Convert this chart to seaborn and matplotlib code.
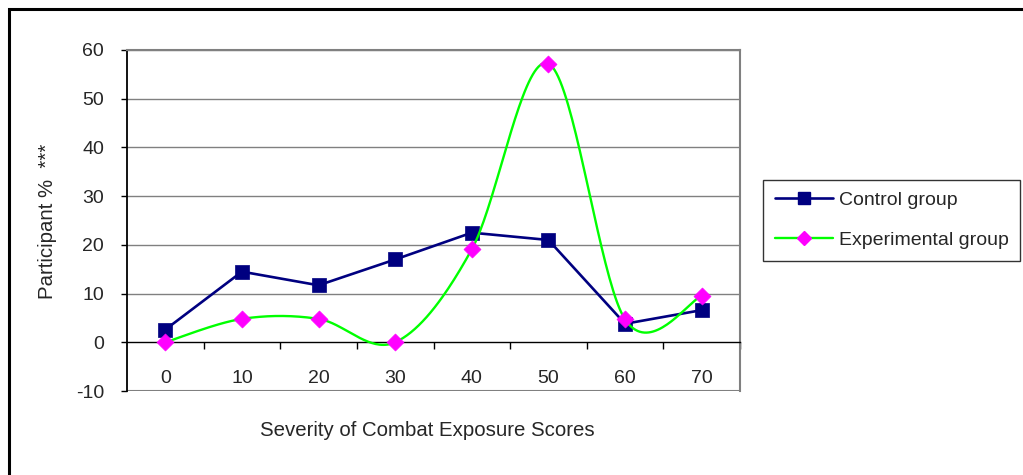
import numpy as np
import pandas as pd
import matplotlib
matplotlib.use("Agg")
import matplotlib.pyplot as plt
import seaborn as sns
from matplotlib.lines import Line2D
from matplotlib.patches import Rectangle

# ---- data ----
scores = [0, 10, 20, 30, 40, 50, 60, 70]
control = [2.6, 14.5, 11.7, 17.0, 22.5, 21.0, 3.8, 6.6]
experimental = [0.0, 4.8, 4.8, 0.0, 19.1, 57.2, 4.7, 9.5]
y_ticks = [-10, 0, 10, 20, 30, 40, 50, 60]
series_names = ["Control group", "Experimental group"]
x_title = "Severity of Combat Exposure Scores"
y_title = "Participant %  ***"

sns.set_theme(style="white")
plt.rcParams['font.family'] = ['Liberation Sans', 'DejaVu Sans']

NAVY = "#000080"
LIME = "#00FF00"
MAG = "#FF00FF"
GRAY = "#808080"
FS = 14
FS_T = 14.7


def smooth(xs, ys, n=40):
    """Excel-style smoothed line (Catmull-Rom Bezier through the points)."""
    xs = np.asarray(xs, float)
    ys = np.asarray(ys, float)
    P = np.column_stack([xs, ys])
    out = []
    for i in range(len(P) - 1):
        p0 = P[i - 1] if i > 0 else P[i]
        p1 = P[i]
        p2 = P[i + 1]
        p3 = P[i + 2] if i + 2 < len(P) else P[i + 1]
        c1 = p1 + (p2 - p0) / 6.0
        c2 = p2 - (p3 - p1) / 6.0
        t = np.linspace(0, 1, n)[:, None]
        seg = ((1 - t) ** 3) * p1 + 3 * ((1 - t) ** 2) * t * c1 + 3 * (1 - t) * t ** 2 * c2 + t ** 3 * p2
        out.append(seg if i == 0 else seg[1:])
    out = np.vstack(out)
    return out[:, 0], out[:, 1]


fig = plt.figure(figsize=(10.23, 4.75), dpi=100)
ax = fig.add_axes([127 / 1023, 84 / 475, 613 / 1023, 341 / 475])

# grid lines
for v in y_ticks:
    if v in (-10, 0):
        continue
    ax.axhline(v, color=GRAY, lw=1.0, zorder=0)
ax.axhline(-10, color=GRAY, lw=1.5, zorder=0)

# control series
df_c = pd.DataFrame({"x": scores, "y": control})
sns.lineplot(data=df_c, x="x", y="y", ax=ax, color=NAVY, lw=1.9, zorder=3)
sns.scatterplot(data=df_c, x="x", y="y", ax=ax, color=NAVY, marker="s", s=95,
                edgecolor=NAVY, linewidth=0.5, zorder=4)

# experimental series (smoothed)
sx, sy = smooth(scores, experimental)
df_s = pd.DataFrame({"x": sx, "y": sy})
sns.lineplot(data=df_s, x="x", y="y", ax=ax, color=LIME, lw=1.7, zorder=5, sort=False)
df_e = pd.DataFrame({"x": scores, "y": experimental})
sns.scatterplot(data=df_e, x="x", y="y", ax=ax, color=MAG, marker="D", s=75,
                edgecolor=MAG, linewidth=0.5, zorder=6)

ax.set_xlim(-5, 75)
ax.set_ylim(-10, 60)
ax.set_xlabel("")
ax.set_ylabel("")

# axes styling
ax.spines['bottom'].set_position(('data', 0))
ax.spines['bottom'].set_color('black')
ax.spines['bottom'].set_linewidth(1.0)
ax.spines['left'].set_color('black')
ax.spines['left'].set_linewidth(1.3)
ax.spines['top'].set_color(GRAY)
ax.spines['top'].set_linewidth(1.5)
ax.spines['right'].set_color(GRAY)
ax.spines['right'].set_linewidth(1.5)

ax.set_yticks(y_ticks)
ax.set_yticklabels([str(v) for v in y_ticks], fontsize=FS)
ax.tick_params(axis='y', direction='out', length=4.5, width=1, color='black', pad=12, left=True)

ax.set_xticks([s + 5 for s in scores])
ax.set_xticklabels([])
ax.tick_params(axis='x', direction='out', length=5, width=1, color='black', bottom=True)

for s in scores:
    ax.text(s, -7.5, str(s), ha='center', va='center', fontsize=FS)

fig.text(427 / 1023, 1 - 430 / 475, x_title, ha='center', va='center', fontsize=FS_T)
fig.text(48 / 1023, 1 - 221 / 475, y_title, ha='center', va='center', rotation=90, fontsize=FS_T)

handles = [
    Line2D([], [], color=NAVY, lw=1.9, marker='s', markersize=8, markerfacecolor=NAVY, markeredgecolor=NAVY),
    Line2D([], [], color=LIME, lw=1.7, marker='D', markersize=7, markerfacecolor=MAG, markeredgecolor=MAG),
]
leg = fig.legend(handles, series_names, loc='upper left',
                 bbox_to_anchor=(763 / 1023, 1 - 180 / 475), fontsize=FS,
                 frameon=True, fancybox=False, shadow=False, borderaxespad=0,
                 handlelength=3.0, handletextpad=0.3, labelspacing=1.15,
                 borderpad=0.6)
leg.get_frame().set_edgecolor('black')
leg.get_frame().set_linewidth(1.0)
leg.get_frame().set_facecolor('white')

# outer chart frame
fig.patches.append(Rectangle((9 / 1023, -0.1), 1.2, 1 - 9 / 475 + 0.1,
                             transform=fig.transFigure, fill=False,
                             edgecolor='black', lw=2.2, zorder=10))

fig.savefig("out.png", dpi=100)
